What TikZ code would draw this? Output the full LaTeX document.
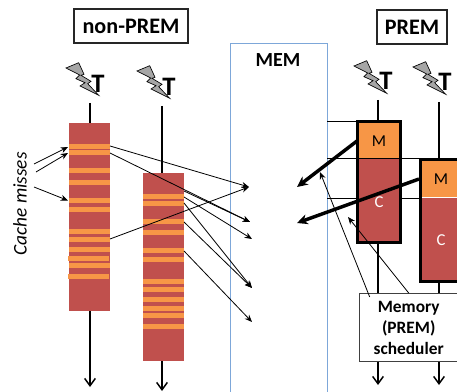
\documentclass[tikz,border=0pt]{standalone}
\usepackage{fontspec}
\setmainfont{Carlito}
\usetikzlibrary{arrows.meta}
\definecolor{barred}{HTML}{C0504D}
\definecolor{barorange}{HTML}{F79646}
\definecolor{memblue}{HTML}{7DA7D9}
\definecolor{boltgray}{HTML}{A6A6A6}
\tikzset{
  px/.style={x=0.75pt,y=-0.75pt},
  titlebox/.style={draw=black!85,line width=0.9pt,fill=white,inner sep=0pt,font=\fontsize{16.6}{18}\selectfont\bfseries},
  membox/.style={draw=memblue,line width=1.1pt,fill=none,inner sep=0pt},
  barbox/.style={fill=barred,inner sep=0pt},
  stripe/.style={fill=barorange,draw=none},
  tletter/.style={inner sep=0pt,font=\fontsize{20}{20}\selectfont\bfseries},
  bolt/.style={fill=boltgray,draw=black,line width=0.5pt},
  stem/.style={line width=1.1pt,black},
  flow/.style={line width=1.1pt,black,-{Straight Barb[length=5.5pt,width=8pt,line width=1.1pt]}},
  miss/.style={line width=0.6pt,black,-{Stealth[length=5.5pt,width=4.5pt]}},
  wire/.style={line width=0.65pt,black},
  thickmove/.style={line width=2.6pt,black,-{Stealth[length=8pt,width=7.5pt]}},
  premcell/.style={inner sep=0pt},
  premframe/.style={draw=black,line width=2.7pt,fill=none,inner sep=0pt},
  schedbox/.style={draw=black!75,line width=0.9pt,fill=white,inner sep=0pt},
}
\newcommand{\lightning}[2]{%
  \draw[bolt,shift={(#1,#2)}] (0,0) -- (12.7,-5.3) -- (18,6.3) -- (15,7.3) -- (25,13.3) -- (21.7,15.7) -- (32.7,27.3)
    -- (14,18) -- (19,14.7) -- (10,10.7) -- (13.7,7) -- cycle;}
\begin{document}
\begin{tikzpicture}[px]
\clip (0,0) rectangle (457,392);
\fill[white] (0,0) rectangle (457,392);

% memory region
\node[membox,minimum width=72.9pt,minimum height=280pt,anchor=north west] (mem) at (229.5,43) {};
\node[inner sep=0pt,font=\fontsize{15}{16}\selectfont\bfseries] (memlabel) at (278,60) {MEM};

% titles
\node[titlebox,minimum width=85.5pt,minimum height=25.5pt] (nonprem) at (131,26) {non-PREM};
\node[titlebox,minimum width=52.5pt,minimum height=25.5pt] (prem) at (412,27) {PREM};

% triggers
\lightning{66}{68}
\node[tletter] (t1) at (98,84) {T};
\lightning{137}{71}
\node[tletter] (t2) at (169,87) {T};
\lightning{354}{66}
\node[tletter] (t3) at (386,81) {T};
\lightning{413}{67}
\node[tletter] (t4) at (445,82) {T};

% left bars
\node[barbox,minimum width=30.75pt,minimum height=141pt] (bara) at (89.5,217) {};
\node[barbox,minimum width=30.75pt,minimum height=141pt] (barb) at (163.5,267) {};
\foreach \a/\b in {144/149.5,150/155,168/173,180/185,198/203,207/212,229/234,237/242,247/252,263/268}
  \fill[stripe] (69,\a) rectangle (110,\b);
\foreach \a/\b in {256/261,274/279}
  \fill[stripe] (68,\a) rectangle (109,\b);
\foreach \a/\b in {194/199,201/206,219/224,230/235,248/253,257/262,279/284,287/292,297/302,306/311,313/318,324/329}
  \fill[stripe] (143,\a) rectangle (184,\b);

% stems
\coordinate (topa) at (90,103);
\coordinate (topb) at (162,106);
\coordinate (enda) at (90,387);
\coordinate (endb) at (162,391);
\draw[stem] (topa) -- (bara.north -| topa);
\draw[stem] (topb) -- (barb.north -| topb);
\draw[flow] (bara.south -| enda) -- (enda);
\draw[flow] (barb.south -| endb) -- (endb);

% cache miss label and arrows
\node[rotate=90,inner sep=0pt,font=\fontsize{14.5}{16}\selectfont\itshape] (cm) at (20,204) {Cache misses};
\coordinate (ma) at (34,164); \coordinate (mah) at (68,147);
\coordinate (mb) at (36,172); \coordinate (mbh) at (68,153);
\coordinate (mc) at (34,187); \coordinate (mch) at (68,200.5);
\draw[miss] (ma) -- (mah);
\draw[miss] (mb) -- (mbh);
\draw[miss] (mc) -- (mch);

% accesses to memory
\coordinate (h1) at (249,187);
\coordinate (h2) at (250,222);
\coordinate (h3) at (252,239);
\coordinate (h4) at (252,288);
\coordinate (h5) at (252,322);
\coordinate (a1) at (110,146);
\coordinate (a2) at (110,153);
\coordinate (a3) at (110,239);
\coordinate (b1) at (184,191);
\coordinate (b2) at (184,197);
\coordinate (b3) at (184,203);
\coordinate (b4) at (184,222);
\coordinate (b5) at (184,251);
\draw[miss] (a1) -- (h1);
\draw[miss] (a2) -- (h2);
\draw[miss] (a3) -- (h1);
\draw[miss] (b1) -- (h2);
\draw[miss] (b2) -- (h3);
\draw[miss] (b3) -- (h4);
\draw[miss] (b4) -- (h4);
\draw[miss] (b5) -- (h5);

% PREM horizontal guides
\coordinate (g1) at (327,121);
\coordinate (g2) at (327,158.5);
\coordinate (g3) at (327,198);
\draw[wire] (g1) -- (357,121);
\draw[wire] (g2) -- (420,158.5);
\draw[wire] (g3) -- (420,198);

% PREM bars
\fill[barorange] (357,121) rectangle (401,158);
\fill[barred] (357,159) rectangle (401,243);
\draw[premframe] (357.5,121.5) rectangle (400.5,242.5);
\fill[barorange] (420,160) rectangle (470,197);
\fill[barred] (420,198) rectangle (470,281);
\draw[premframe] (420.5,159.5) rectangle (470,281.5);
\node[premcell,font=\fontsize{12.5}{14}\selectfont] (m1) at (379,141) {M};
\node[premcell,font=\fontsize{12.5}{14}\selectfont] (m2) at (441,179) {M};
\node[premcell,text=white,font=\fontsize{12.5}{14}\selectfont] (c1) at (379,202) {C};
\node[premcell,text=white,font=\fontsize{12.5}{14}\selectfont] (c2) at (441,240) {C};

% stems PREM
\coordinate (topc) at (378,100);
\coordinate (topd) at (439,102);
\draw[stem] (topc) -- (378,120);
\draw[stem] (topd) -- (439,158);
\draw[stem] (378,244) -- (378,294);
\draw[stem] (439,283) -- (439,294);

% scheduler
\node[schedbox,minimum width=90pt,minimum height=51pt,anchor=north west,align=center] (sched) at (359,293) {};
\node[inner sep=0pt,align=center,font=\fontsize{13}{15.8}\selectfont\bfseries] (schedtext) at (408.7,328) {Memory\\(PREM)\\scheduler};
\coordinate (endc) at (378,385);
\coordinate (endd) at (439,385);
\draw[flow] (sched.south -| endc) -- (endc);
\draw[flow] (sched.south -| endd) -- (endd);

% scheduler control arrows
\coordinate (s1) at (369.7,297);
\coordinate (s1h) at (320,172);
\coordinate (s2) at (408.7,293);
\coordinate (s2h) at (348,217);
\draw[miss] (s1) -- (s1h);
\draw[miss] (s2) -- (s2h);

% thick moves
\coordinate (ta) at (357,141);
\coordinate (tah) at (297,187);
\coordinate (tb) at (419,179);
\coordinate (tbh) at (297,223);
\draw[thickmove] (ta) -- (tah);
\draw[thickmove] (tb) -- (tbh);
\end{tikzpicture}
\end{document}
